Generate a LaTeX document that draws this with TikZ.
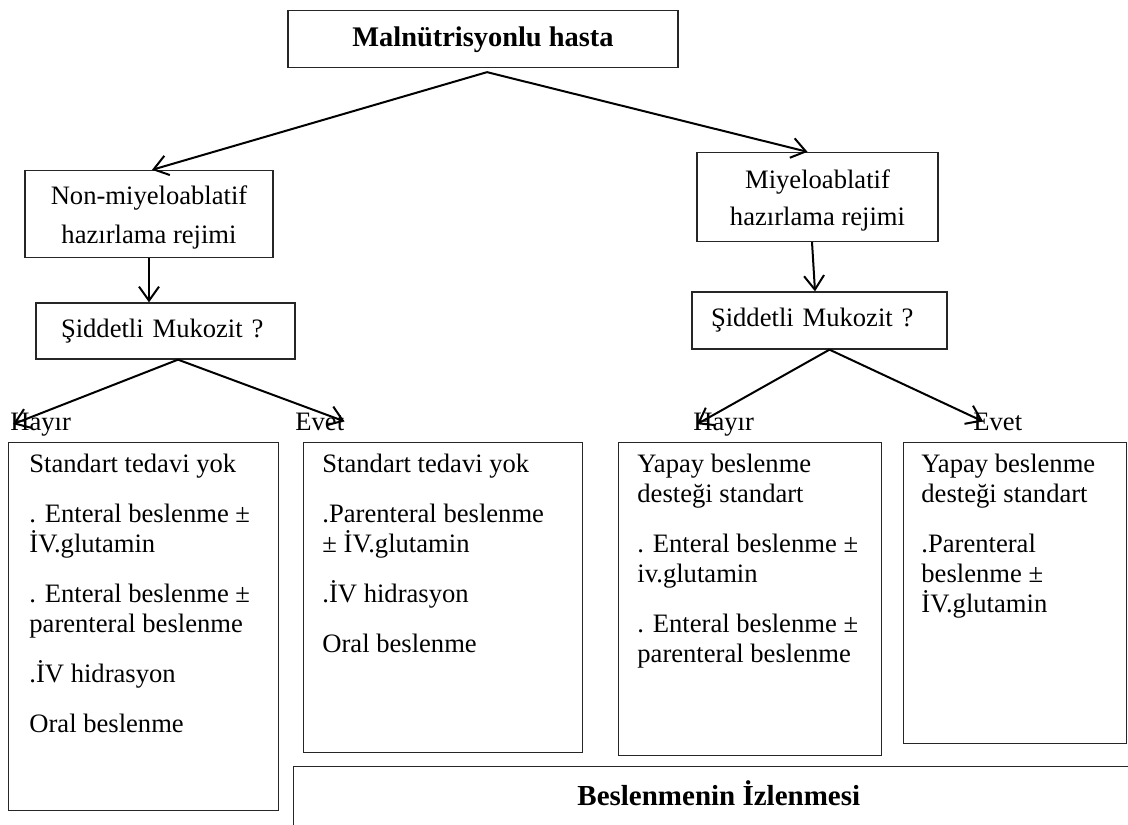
\documentclass[tikz,border=0pt]{standalone}
\usepackage{fontspec}
\setmainfont{Liberation Serif}
\usetikzlibrary{arrows.meta}
\begin{document}
\begin{tikzpicture}[x=0.5pt,y=-0.5pt,
  box/.style={draw=black!85, line width=0.65pt, inner sep=0pt},
  txt/.style={font=\fontsize{13.3}{14.9}\selectfont},
  two/.style={font=\fontsize{13.3}{19.5}\selectfont, align=center},
  bold/.style={font=\bfseries\fontsize{14.2}{16}\selectfont},
  conn/.style={line width=1pt, -{Straight Barb[length=7pt,width=10pt,line width=1pt]}},
  lbl/.style={inner sep=0pt, font=\fontsize{13.3}{14.75}\selectfont, anchor=base west},
  body/.style={txt, align=left, anchor=north west, inner sep=0pt}
]
\useasboundingbox (0,0) rectangle (1128,824);
\clip (0,0) rectangle (1128,824);

% top level
\node[box, bold, minimum width=195pt, minimum height=28.5pt] (top) at (483,39) {\rule{0pt}{11pt}Malnütrisyonlu hasta};

% regimens
\node[box, two, minimum width=124pt, minimum height=43.5pt] (non) at (149,214) {\rule{0pt}{13pt}Non-miyeloablatif\\hazırlama rejimi};
\node[box, two, font=\fontsize{13.3}{18.5}\selectfont, minimum width=120.5pt, minimum height=44.5pt] (miy) at (817.5,197) {\rule{0pt}{13pt}Miyeloablatif\\hazırlama rejimi};

% questions
\node[box, txt, align=left, inner xsep=12.5pt, text width=104.5pt, minimum height=28pt] (sidl) at (165.5,331) {Şiddetli Mukozit ?};
\node[box, txt, align=left, inner xsep=9.5pt, text width=108.5pt, minimum height=28.5pt] (sidr) at (819.5,320.5) {Şiddetli Mukozit ?};

% answer labels
\node[lbl] (hl) at (10,430) {Hayır};
\node[lbl] (el) at (295,430) {Evet};
\node[lbl] (hr) at (693,430) {Hayır};
\node[lbl] (er) at (973,430) {Evet};

% result boxes
\node[box, anchor=north west, minimum width=135pt, minimum height=184pt] (bA) at (8,442) {};
\node[box, anchor=north west, minimum width=139.5pt, minimum height=155pt] (bB) at (303,442) {};
\node[box, anchor=north west, minimum width=131.5pt, minimum height=156.5pt] (bC) at (618,442) {};
\node[box, anchor=north west, minimum width=111.5pt, minimum height=150.5pt] (bD) at (903,442) {};

\node[body] (tA) at (29,448) {\rule{0pt}{12pt}Standart tedavi yok\\[10.2pt]
. Enteral beslenme ±\\İV.glutamin\\[10.2pt]
. Enteral beslenme ±\\parenteral beslenme\\[10.2pt]
.İV hidrasyon\\[10.2pt]
Oral beslenme};
\node[body] (tB) at (322,448) {\rule{0pt}{12pt}Standart tedavi yok\\[10.2pt]
.Parenteral beslenme\\± İV.glutamin\\[10.2pt]
.İV hidrasyon\\[10.2pt]
Oral beslenme};
\node[body] (tC) at (637,448) {\rule{0pt}{12pt}Yapay beslenme\\desteği standart\\[10.2pt]
. Enteral beslenme ±\\iv.glutamin\\[10.2pt]
. Enteral beslenme ±\\parenteral beslenme};
\node[body] (tD) at (921,448) {\rule{0pt}{12pt}Yapay beslenme\\desteği standart\\[10.2pt]
.Parenteral\\beslenme ±\\İV.glutamin};

% monitoring box
\node[box, anchor=north west, minimum width=440pt, minimum height=50pt] (mon) at (293,766) {};
\node[font=\bfseries\fontsize{14.5}{17}\selectfont, anchor=base west, inner sep=0pt] (izl) at (577,805) {Beslenmenin İzlenmesi};

% connectors
\coordinate (a1) at ([shift={(4,4)}]top.south);
\draw[conn] (a1) -- ([xshift=1.5pt]non.north);
\draw[conn] (a1) -- ([xshift=-5pt]miy.north);
\draw[conn] (non.south) -- (non.south |- sidl.north);
\draw[conn] ([xshift=-2.75pt]miy.south) -- ([xshift=-2.25pt]sidr.north);
\coordinate (a2) at ([xshift=6.25pt]sidl.south);
\draw[conn] (a2) -- ([xshift=1.5pt]hl.west);
\draw[conn] (a2) -- (el.east);
\coordinate (a3) at ([xshift=5pt]sidr.south);
\draw[conn] (a3) -- ([xshift=2pt]hr.west);
\draw[conn] (a3) -- ([xshift=5pt]er.west);
\end{tikzpicture}
\end{document}
